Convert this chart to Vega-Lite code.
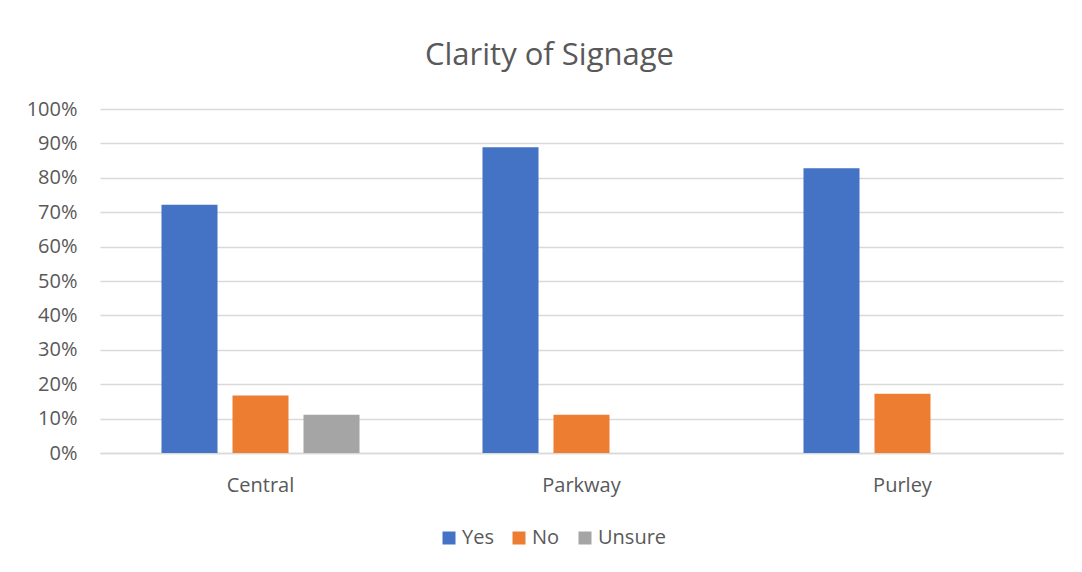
{
  "$schema": "https://vega.github.io/schema/vega-lite/v6.json",
  "width": 963,
  "height": 344,
  "autosize": {"type": "none"},
  "padding": {"left": 100, "top": 109, "right": 19, "bottom": 119},
  "background": "white",
  "title": {
    "text": "Clarity of Signage",
    "font": "Open Sans",
    "fontSize": 31,
    "fontWeight": "normal",
    "color": "#595959",
    "anchor": "middle",
    "baseline": "alphabetic",
    "dx": -32,
    "offset": 3
  },
  "data": {
    "values": [
      {"site": "Central", "answer": "Yes", "share": 0.722},
      {"site": "Central", "answer": "No", "share": 0.167},
      {"site": "Central", "answer": "Unsure", "share": 0.111},
      {"site": "Parkway", "answer": "Yes", "share": 0.889},
      {"site": "Parkway", "answer": "No", "share": 0.111},
      {"site": "Purley", "answer": "Yes", "share": 0.828},
      {"site": "Purley", "answer": "No", "share": 0.172}
    ]
  },
  "mark": {"type": "bar"},
  "encoding": {
    "x": {
      "field": "site",
      "type": "nominal",
      "sort": ["Central", "Parkway", "Purley"],
      "scale": {"paddingInner": 0, "paddingOuter": 0},
      "axis": {
        "title": null,
        "labelAngle": 0,
        "ticks": false,
        "domain": true,
        "domainColor": "#D9D9D9",
        "domainWidth": 1.5,
        "labelFont": "Open Sans",
        "labelFontSize": 20,
        "labelColor": "#595959",
        "labelPadding": 22
      }
    },
    "xOffset": {
      "field": "answer",
      "type": "nominal",
      "scale": {"domain": ["Yes", "No", "Unsure"], "paddingInner": 0.211, "paddingOuter": 0.866}
    },
    "y": {
      "field": "share",
      "type": "quantitative",
      "scale": {"domain": [0, 1], "nice": false},
      "axis": {
        "title": null,
        "format": ".0%",
        "values": [0, 0.1, 0.2, 0.3, 0.4, 0.5, 0.6, 0.7, 0.8, 0.9, 1],
        "ticks": false,
        "domain": false,
        "grid": true,
        "gridColor": "#D9D9D9",
        "gridWidth": 1.5,
        "labelFont": "Open Sans",
        "labelFontSize": 20,
        "labelColor": "#595959",
        "labelPadding": 23
      }
    },
    "color": {
      "field": "answer",
      "type": "nominal",
      "scale": {"domain": ["Yes", "No", "Unsure"], "range": ["#4472C4", "#ED7D31", "#A5A5A5"]},
      "legend": {
        "title": null,
        "orient": "none",
        "direction": "horizontal",
        "legendX": 339,
        "legendY": 419,
        "symbolType": "square",
        "symbolSize": 169,
        "symbolStrokeWidth": 0,
        "symbolOpacity": 1,
        "labelFont": "Open Sans",
        "labelFontSize": 20,
        "labelColor": "#595959",
        "labelOffset": 3,
        "columnPadding": 15
      }
    }
  },
  "config": {
    "view": {"stroke": null}
  }
}
